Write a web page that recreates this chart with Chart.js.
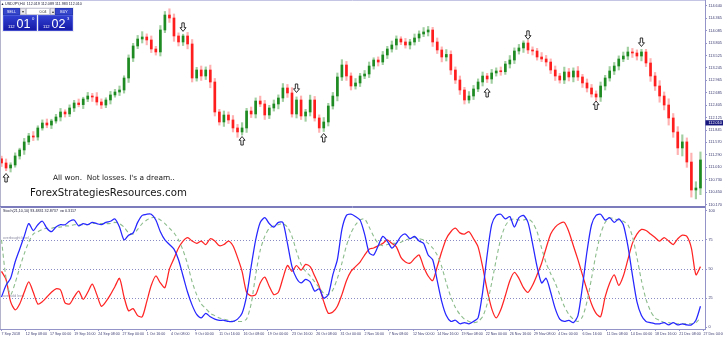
<!DOCTYPE html>
<html>
<head>
<meta charset="utf-8">
<title>USDJPY H4 - Stochastic</title>
<script src="https://cdn.jsdelivr.net/npm/chart.js@4.4.1/dist/chart.umd.min.js"></script>
<style>
  html, body { margin: 0; padding: 0; background: #fff; }
  #wrap { position: relative; width: 723px; height: 338px; overflow: hidden; background: #fff; }
  #mainChart { position: absolute; left: 0; top: 0; }
  #stochChart { position: absolute; left: 0; top: 207px; }
</style>
</head>
<body>
<div id="wrap">
  <canvas id="mainChart" width="723" height="207"></canvas>
  <canvas id="stochChart" width="723" height="131"></canvas>
</div>
<script>
(function () {
  "use strict";

  // ── texts ──
  const headerText = "USDJPY,H4  112.019 112.089 111.983 112.010";
  const stochTitle = "Stoch(21,10,10) 93.4831 32.8737  v= 0.3117";
  const overlayLine1 = "All won.  Not losses. I's a dream..";
  const overlayLine2 = "ForexStrategiesResources.com";
  const levelCaptions = ["overbought level", "oversold level"];
  const lotSize = "0.04";
  const sellQuote = ["112", "01", "0"];
  const buyQuote = ["112", "02", "3"];

  // ── axes ──
  const timeLabels = ["7 Sep 2018", "12 Sep 08:00", "17 Sep 00:00", "19 Sep 16:00", "24 Sep 08:00",
    "27 Sep 00:00", "1 Oct 16:00", "4 Oct 08:00", "9 Oct 00:00", "11 Oct 16:00", "16 Oct 08:00",
    "19 Oct 00:00", "23 Oct 16:00", "26 Oct 08:00", "31 Oct 00:00", "2 Nov 16:00", "7 Nov 08:00",
    "12 Nov 00:00", "14 Nov 16:00", "19 Nov 08:00", "22 Nov 00:00", "26 Nov 16:00", "29 Nov 08:00",
    "4 Dec 00:00", "6 Dec 16:00", "11 Dec 08:00", "14 Dec 00:00", "18 Dec 16:00", "21 Dec 08:00",
    "27 Dec 04:00"];
  const priceTicks = [114.640, 114.365, 114.085, 113.805, 113.525, 113.245, 112.965, 112.685,
    112.405, 112.125, 111.845, 111.570, 111.290, 111.010, 110.730, 110.450, 110.170];
  const stochTicks = [0, 25, 50, 75, 100];
  const stochLevels = [75, 50, 25];
  const lastPrice = 112.010;

  // ── candles (one candle = 3 H4 bars) ──
  const firstOpen = 111.200;
  const closes = [
    111.106, 110.993, 111.061, 111.264, 111.399, 111.579, 111.714, 111.690, 111.894, 112.006,
    111.960, 112.051, 112.141, 112.254, 112.210, 112.344, 112.456, 112.420, 112.546, 112.614,
    112.591, 112.479, 112.411, 112.524, 112.637, 112.704, 112.749, 113.019, 113.469, 113.740,
    113.897, 113.942, 113.875, 113.672, 113.605, 114.100, 114.437, 114.370, 113.965, 113.830,
    113.965, 113.785, 113.019, 113.199, 113.064, 113.199, 112.929, 112.254, 112.029, 112.186,
    112.074, 111.894, 111.804, 111.894, 112.276, 112.209, 112.501, 112.434, 112.186, 112.344,
    112.434, 112.569, 112.794, 112.682, 112.209, 112.524, 112.164, 112.254, 112.524, 112.119,
    111.894, 112.029, 112.389, 112.614, 113.042, 113.312, 113.064, 112.839, 112.907, 113.064,
    113.109, 113.289, 113.424, 113.379, 113.537, 113.672, 113.762, 113.897, 113.830, 113.762,
    113.830, 113.920, 114.010, 114.055, 114.100, 113.830, 113.650, 113.492, 113.550, 113.199,
    112.974, 112.749, 112.524, 112.614, 112.772, 112.929, 113.064, 112.997, 113.132, 113.177,
    113.160, 113.334, 113.424, 113.627, 113.695, 113.807, 113.650, 113.627, 113.492, 113.447,
    113.379, 113.199, 113.064, 112.974, 113.154, 113.042, 113.177, 113.042, 112.907, 112.794,
    112.659, 112.591, 112.839, 113.019, 113.177, 113.289, 113.447, 113.514, 113.605, 113.582,
    113.514, 113.605, 113.357, 113.064, 112.839, 112.614, 112.411, 112.119, 111.804, 111.444,
    111.580, 111.128, 110.498, 110.543, 111.174];
  // upper / lower shadows in pips
  const hiPips = [
    6, 9, 5, 7, 4, 8, 6, 10, 5, 7,  9, 4, 6, 8, 5, 7, 6, 9, 4, 8,
    6, 10, 7, 5, 8, 6, 9, 5, 7, 6,  8, 12, 7, 9, 6, 10, 8, 14, 9, 7,
    4, 8, 10, 6, 9, 7, 11, 8, 6, 9,  7, 10, 8, 12, 6, 9, 7, 11, 8, 6,
    9, 7, 10, 8, 12, 7, 9, 6, 11, 8,  7, 10, 6, 8, 9, 12, 8, 7, 10, 6,
    8, 9, 5, 7, 8, 6, 9, 7, 5, 8,  6, 9, 7, 10, 8, 6, 9, 7, 11, 8,
    7, 9, 6, 10, 8, 7, 9, 6, 8, 7,  9, 6, 10, 7, 8, 5, 6, 7, 6, 10,
    8, 7, 9, 6, 11, 8, 7, 10, 6, 9,  8, 7, 9, 6, 10, 8, 7, 9, 11, 8,
    7, 6, 6, 10, 8, 12, 9, 14, 10, 12,  16, 9, 20, 14, 18];
  const loPips = [
    8, 6, 9, 5, 7, 10, 6, 8, 7, 5,  6, 8, 5, 9, 7, 6, 8, 5, 9, 6,
    10, 7, 8, 6, 9, 5, 8, 7, 10, 8,  6, 9, 11, 8, 7, 9, 6, 10, 12, 9,
    8, 11, 9, 7, 10, 8, 13, 9, 7, 10,  8, 9, 12, 7, 10, 8, 9, 6, 10, 8,
    7, 11, 8, 10, 7, 9, 8, 12, 9, 7,  10, 8, 9, 7, 11, 8, 10, 9, 7, 8,
    6, 8, 7, 9, 6, 8, 7, 10, 6, 7,  9, 7, 8, 6, 9, 10, 8, 11, 9, 10,
    8, 10, 9, 7, 8, 6, 9, 8, 10, 7,  8, 6, 9, 8, 7, 10, 8, 9, 7, 6,
    9, 8, 10, 7, 8, 9, 11, 8, 10, 9,  7, 8, 10, 9, 7, 8, 9, 6, 8, 10,
    9, 11, 8, 12, 10, 14, 11, 16, 12, 15,  18, 12, 16, 20, 15];

  // signal arrows: [candle index, price]
  const upSignals = [[1, 110.768], [53, 111.600], [71, 111.669], [107, 112.682], [131, 112.400]];
  const downSignals = [[40, 114.170], [65, 112.794], [116, 113.990], [141, 113.830]];

  // ── stochastic lines ──
  const stochMain = [
    26, 36, 42, 56, 67, 78, 89, 83, 88, 91,  85, 82, 86, 88, 88, 91, 92, 87, 89, 88,
    90, 89, 88, 90, 91, 93, 86, 75, 79, 81,  90, 96, 97, 97, 92, 82, 75, 71, 67, 58,
    44, 30, 19, 11, 8, 12, 9, 7, 6, 6,  5, 5, 7, 12, 27, 52, 75, 90, 94, 89,
    86, 90, 90, 72, 52, 42, 38, 41, 39, 31,  33, 25, 28, 45, 58, 84, 96, 97, 95, 92,
    80, 64, 62, 70, 78, 74, 68, 72, 78, 80,  76, 78, 74, 72, 62, 58, 40, 22, 10, 5,
    6, 3, 4, 3, 5, 8, 30, 62, 88, 96,  97, 93, 95, 86, 94, 96, 90, 72, 52, 38,
    42, 30, 16, 7, 5, 6, 4, 10, 35, 65,  88, 96, 97, 92, 94, 90, 93, 88, 70, 45,
    22, 10, 5, 4, 3, 3, 4, 2, 4, 2,  3, 2, 2, 6, 18];
  const stochSignal = [
    75, 42, 28, 38, 51, 63, 73, 80, 82, 84,  85, 85, 86, 86, 87, 87, 88, 88, 88, 88,
    89, 89, 89, 89, 89, 90, 89, 86, 81, 80,  84, 89, 92, 94, 94, 92, 89, 85, 81, 75,
    66, 54, 39, 28, 20, 16, 12, 10, 8, 7,  6, 5, 5, 5, 7, 20, 45, 66, 78, 85,
    87, 88, 89, 86, 78, 65, 54, 48, 44, 39,  34, 29, 28, 32, 42, 55, 70, 81, 88, 92,
    93, 86, 78, 72, 70, 71, 72, 72, 73, 75,  76, 77, 76, 75, 72, 68, 62, 52, 38, 26,
    17, 11, 7, 5, 4, 5, 9, 20, 38, 58,  76, 87, 92, 93, 92, 92, 93, 90, 82, 68,
    55, 46, 38, 28, 18, 11, 7, 5, 9, 22,  42, 63, 80, 90, 94, 93, 92, 91, 88, 78,
    60, 40, 24, 14, 8, 6, 4, 4, 3, 3,  3, 3, 3, 4, 8];
  const stochRed = [
    48, 41, 22, 15, 20, 30, 39, 30, 20, 22,  26, 30, 33, 32, 21, 20, 26, 31, 24, 30,
    37, 28, 18, 22, 28, 35, 42, 26, 14, 16,  10, 9, 22, 36, 44, 38, 34, 50, 59, 68,
    74, 77, 74, 72, 74, 71, 76, 74, 70, 71,  74, 70, 60, 48, 30, 27, 28, 38, 43, 35,
    28, 30, 42, 53, 48, 53, 49, 54, 52, 44,  35, 22, 12, 13, 18, 28, 40, 48, 52, 56,
    62, 67, 68, 70, 72, 75, 72, 69, 60, 56,  55, 59, 62, 52, 44, 40, 52, 65, 76, 82,
    85, 81, 80, 82, 76, 69, 52, 32, 16, 8,  15, 27, 40, 47, 42, 34, 30, 36, 45, 55,
    68, 80, 86, 89, 90, 82, 70, 58, 45, 32,  20, 12, 9, 26, 38, 45, 36, 44, 58, 72,
    80, 84, 83, 80, 77, 74, 77, 74, 71, 76,  79, 78, 68, 45, 52];

  const BARS_PER_CANDLE = 3;
  const BARS_PER_LABEL = 16;
  const X_MAX = 466;
  const PRICE_MIN = 110.115, PRICE_MAX = 114.775;
  const AXIS_W = 18;

  const AXIS_LINE = "#9494c8";
  const AXIS_TEXT = "#3a3a72";
  const AXIS_FONT = '"Liberation Sans", Arial, sans-serif';
  const TEXT_FONT = '"DejaVu Sans", Verdana, sans-serif';

  function $(id) { return document.getElementById(id); }

  const candleBars = closes.map((_, i) => BARS_PER_CANDLE * i + 1);
  const opens = closes.map((_, i) => (i === 0 ? firstOpen : closes[i - 1]));
  const highs = closes.map((c, i) => Math.max(opens[i], c) + hiPips[i] / 100);
  const lows = closes.map((c, i) => Math.min(opens[i], c) - loPips[i] / 100);
  const isUp = closes.map((c, i) => c >= opens[i]);

  function fitFont(ctx, text, family, width) {
    ctx.font = "10px " + family;
    return 10 * width / ctx.measureText(text).width;
  }

  function drawArrow(ctx, cx, cy, dir) {
    // dir 1 = up, -1 = down
    const pts = [[0, -4.5], [3, -0.8], [1.2, -0.8], [1.2, 4], [-1.2, 4], [-1.2, -0.8], [-3, -0.8]];
    ctx.beginPath();
    pts.forEach(([px, py], k) => {
      const X = cx + px, Y = cy + py * dir;
      if (k) ctx.lineTo(X, Y); else ctx.moveTo(X, Y);
    });
    ctx.closePath();
    ctx.fillStyle = "#fff";
    ctx.fill();
    ctx.strokeStyle = "#1a1a1a";
    ctx.lineWidth = 0.9;
    ctx.stroke();
  }

  function box(ctx, x, y, w, h, fill, stroke) {
    ctx.fillStyle = fill;
    ctx.fillRect(x, y, w, h);
    ctx.strokeStyle = stroke;
    ctx.lineWidth = 0.6;
    ctx.strokeRect(x + 0.3, y + 0.3, w - 0.6, h - 0.6);
  }

  function quoteBox(ctx, x, y, w, h, parts) {
    const g = ctx.createLinearGradient(0, y, 0, y + h);
    g.addColorStop(0, "#3242d4");
    g.addColorStop(1, "#1418a4");
    box(ctx, x, y, w, h, g, "#5d6ae2");
    ctx.fillStyle = "#fff";
    ctx.textAlign = "left";
    ctx.textBaseline = "alphabetic";
    ctx.font = "4.2px " + AXIS_FONT;
    ctx.fillText(parts[0], x + 5, y + 12.5);
    ctx.font = "12.5px " + AXIS_FONT;
    ctx.fillText(parts[1], x + 13.5, y + 12.8);
    ctx.font = "4.2px " + AXIS_FONT;
    ctx.fillText(parts[2], x + 29, y + 5);
  }

  function drawTradePanel(ctx) {
    ctx.save();
    ctx.fillStyle = "#eeeef4";
    ctx.fillRect(2, 7, 72, 25);
    box(ctx, 3, 8, 17, 7, "#3646cc", "#2536aa");
    box(ctx, 20, 8, 6, 7, "#e8e8ee", "#a8a8bc");
    box(ctx, 26, 8, 24, 7, "#ffffff", "#a8a8bc");
    box(ctx, 50, 8, 5, 7, "#e8e8ee", "#a8a8bc");
    box(ctx, 55, 8, 18, 7, "#3646cc", "#2536aa");
    ctx.textBaseline = "middle";
    ctx.textAlign = "center";
    ctx.font = "3.6px " + AXIS_FONT;
    ctx.fillStyle = "#fff";
    ctx.fillText("SELL", 11.5, 11.6);
    ctx.fillText("BUY", 64, 11.6);
    ctx.fillStyle = "#333";
    ctx.fillText(lotSize, 43, 11.6);
    ctx.fillText("\u25BE", 23, 11.6);
    ctx.fillText("\u25B4", 52.5, 11.6);
    quoteBox(ctx, 3, 15, 34, 16, sellQuote);
    quoteBox(ctx, 38, 15, 35, 16, buyQuote);
    ctx.restore();
  }

  const mainDecor = {
    id: "mainDecor",
    afterDraw(chart) {
      const { ctx, chartArea: a, scales: { x, y } } = chart;
      ctx.save();
      // frame
      ctx.lineWidth = 1;
      ctx.strokeStyle = "#c4c4e4";
      ctx.beginPath();
      ctx.moveTo(0, 0.5); ctx.lineTo(a.right, 0.5);
      ctx.stroke();
      ctx.strokeStyle = "#b4b4cc";
      ctx.beginPath();
      ctx.moveTo(0.5, 0); ctx.lineTo(0.5, a.bottom);
      ctx.stroke();
      ctx.strokeStyle = "#7c7cbc";
      ctx.beginPath();
      ctx.moveTo(0, a.bottom - 0.5); ctx.lineTo(a.right, a.bottom - 0.5);
      ctx.stroke();

      // signal arrows
      upSignals.forEach(([i, p]) => drawArrow(ctx, x.getPixelForValue(candleBars[i]), y.getPixelForValue(p), 1));
      downSignals.forEach(([i, p]) => drawArrow(ctx, x.getPixelForValue(candleBars[i]), y.getPixelForValue(p), -1));

      // current price tag
      const py = y.getPixelForValue(lastPrice);
      ctx.fillStyle = "#16167e";
      ctx.fillRect(a.right + 0.5, py - 2.6, chart.width - a.right, 5.2);
      ctx.fillStyle = "#fff";
      ctx.font = "3.8px " + AXIS_FONT;
      ctx.textAlign = "left";
      ctx.textBaseline = "middle";
      ctx.fillText(lastPrice.toFixed(3), a.right + 3.5, py + 0.2);

      // header
      ctx.fillStyle = "#20203c";
      ctx.beginPath();
      ctx.moveTo(1.5, 5); ctx.lineTo(3.5, 5); ctx.lineTo(2.5, 3);
      ctx.closePath(); ctx.fill();
      ctx.font = "3.7px " + AXIS_FONT;
      ctx.fillText(headerText, 5, 4);

      drawTradePanel(ctx);

      // overlay texts
      ctx.fillStyle = "#161616";
      ctx.textAlign = "left";
      ctx.textBaseline = "middle";
      ctx.font = fitFont(ctx, overlayLine1, TEXT_FONT, 122).toFixed(2) + "px " + TEXT_FONT;
      ctx.fillText(overlayLine1, 53, 178);
      ctx.font = fitFont(ctx, overlayLine2, TEXT_FONT, 157).toFixed(2) + "px " + TEXT_FONT;
      ctx.fillText(overlayLine2, 30, 193);
      ctx.restore();
    },
  };

  const stochDecor = {
    id: "stochDecor",
    beforeDatasetsDraw(chart) {
      const { ctx, chartArea: a, scales: { y } } = chart;
      ctx.save();
      ctx.strokeStyle = "#8a8ac4";
      ctx.lineWidth = 1;
      ctx.setLineDash([1, 2]);
      stochLevels.forEach(v => {
        const py = Math.round(y.getPixelForValue(v)) + 0.5;
        ctx.beginPath(); ctx.moveTo(a.left, py); ctx.lineTo(a.right, py); ctx.stroke();
      });
      ctx.setLineDash([]);
      ctx.fillStyle = "#8c8ca4";
      ctx.font = "3.5px " + AXIS_FONT;
      ctx.textAlign = "left";
      ctx.textBaseline = "bottom";
      ctx.fillText(levelCaptions[0], 3, Math.round(y.getPixelForValue(75)));
      ctx.fillText(levelCaptions[1], 3, Math.round(y.getPixelForValue(25)));
      ctx.restore();
    },
    afterDraw(chart) {
      const { ctx, chartArea: a } = chart;
      ctx.save();
      ctx.lineWidth = 1;
      ctx.strokeStyle = "#7c7cbc";
      ctx.beginPath();
      ctx.moveTo(0, 0.5); ctx.lineTo(a.right, 0.5);
      ctx.stroke();
      ctx.strokeStyle = "#b4b4cc";
      ctx.beginPath();
      ctx.moveTo(0.5, 0); ctx.lineTo(0.5, a.bottom);
      ctx.stroke();
      ctx.strokeStyle = AXIS_LINE;
      ctx.beginPath();
      ctx.moveTo(a.right + 0.5, 0); ctx.lineTo(a.right + 0.5, a.top);
      ctx.stroke();
      ctx.fillStyle = "#20203c";
      ctx.font = "3.7px " + AXIS_FONT;
      ctx.textAlign = "left";
      ctx.textBaseline = "middle";
      ctx.fillText(stochTitle, 3, 4);
      ctx.restore();
    },
  };

  const baseOptions = {
    responsive: false,
    animation: false,
    devicePixelRatio: 1,
    events: [],
    plugins: { legend: { display: false }, tooltip: { enabled: false } },
  };
  const tickFont = { family: AXIS_FONT, size: 3.8 };

  // ── price chart ──
  new Chart($("mainChart"), {
    type: "bar",
    data: {
      datasets: [
        {
          data: candleBars.map((b, i) => ({ x: b, y: [lows[i], highs[i]] })),
          backgroundColor: c => (isUp[c.dataIndex] ? "rgba(70,160,70,0.5)" : "rgba(255,100,100,0.5)"),
          barThickness: 1.5, grouped: false, order: 2, borderWidth: 0,
        },
        {
          data: candleBars.map((b, i) => ({ x: b, y: [opens[i], closes[i]] })),
          backgroundColor: c => (isUp[c.dataIndex] ? "#1e8a22" : "#ff1e1e"),
          barThickness: 2, grouped: false, order: 1, borderWidth: 0, minBarLength: 1,
        },
      ],
    },
    options: Object.assign({}, baseOptions, {
      layout: { padding: 0 },
      scales: {
        x: { type: "linear", min: 0, max: X_MAX, offset: false, display: false },
        y: {
          position: "right", min: PRICE_MIN, max: PRICE_MAX, beginAtZero: false,
          afterBuildTicks: s => { s.ticks = priceTicks.map(v => ({ value: v })); },
          afterFit: s => { s.width = AXIS_W; s.paddingTop = 0; s.paddingBottom = 0; },
          ticks: { autoSkip: false, padding: 1.5, color: AXIS_TEXT, font: tickFont, callback: v => v.toFixed(3) },
          grid: { drawOnChartArea: false, tickLength: 2, color: AXIS_LINE },
          border: { color: AXIS_LINE },
        },
      },
    }),
    plugins: [mainDecor],
  });

  // ── stochastic window ──
  const line = (vals, color, extra) => Object.assign({
    data: vals.map((v, i) => ({ x: candleBars[i], y: v })),
    borderColor: color, borderWidth: 1.25, pointRadius: 0, tension: 0.25, fill: false,
  }, extra);

  new Chart($("stochChart"), {
    type: "line",
    data: {
      datasets: [
        line(stochRed, "#ff2424", { order: 3 }),
        line(stochSignal, "#8cbc8c", { order: 2, borderDash: [4, 3], borderWidth: 1.1 }),
        line(stochMain, "#2626ff", { order: 1 }),
      ],
    },
    options: Object.assign({}, baseOptions, {
      layout: { padding: { top: 2 } },
      scales: {
        x: {
          type: "linear", min: 0, max: X_MAX, offset: false,
          afterBuildTicks: s => { s.ticks = timeLabels.map((_, k) => ({ value: 1 + BARS_PER_LABEL * k })); },
          afterFit: s => { s.height = 9; s.paddingLeft = 0; s.paddingRight = 0; },
          ticks: {
            autoSkip: false, maxRotation: 0, minRotation: 0, align: "start", padding: 0.5,
            color: AXIS_TEXT, font: { family: AXIS_FONT, size: 3.6 },
            callback: (v, i) => timeLabels[i],
          },
          grid: { drawOnChartArea: false, tickLength: 2, color: AXIS_LINE },
          border: { color: AXIS_LINE },
        },
        y: {
          position: "right", min: -1.5, max: 101.5,
          afterBuildTicks: s => { s.ticks = stochTicks.map(v => ({ value: v })); },
          afterFit: s => { s.width = AXIS_W; s.paddingTop = 0; s.paddingBottom = 0; },
          ticks: { autoSkip: false, padding: 1.5, color: AXIS_TEXT, font: tickFont, callback: v => String(v) },
          grid: { drawOnChartArea: false, tickLength: 2, color: AXIS_LINE },
          border: { color: AXIS_LINE },
        },
      },
    }),
    plugins: [stochDecor],
  });
})();
</script>
</body>
</html>
